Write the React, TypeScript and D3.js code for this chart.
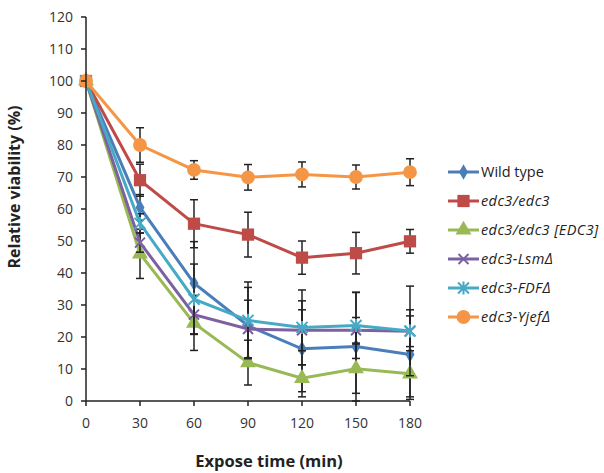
import React from "react";
import { scaleLinear, line, symbol, symbolDiamond, symbolSquare, symbolTriangle, symbolCircle } from "d3";

const width = 604;
const height = 473;
const margin = { top: 17, right: 194, bottom: 72, left: 86 };

const times = [0, 30, 60, 90, 120, 150, 180];
const yTicks = [0, 10, 20, 30, 40, 50, 60, 70, 80, 90, 100, 110, 120];

// values (mean, error)
const wildType = [100, 60.5, 36.8, 23.5, 16.3, 17, 14.5];
const wildTypeErr = [0, 4, 13, 12, 15, 17, 14];
const edc3 = [100, 69, 55.4, 52, 44.8, 46.2, 49.9];
const edc3Err = [0, 5, 7.5, 7, 5.2, 6.5, 3.7];
const edc3Rescue = [100, 46, 24.3, 12, 7.1, 10.1, 8.5];
const edc3RescueErr = [0, 7.7, 8.5, 7, 4.2, 7.7, 7.2];
const lsm = [100, 49.5, 27, 22.5, 22.1, 22.1, 21.8];
const lsmErr = [0, 3, 6, 9, 6.4, 4, 4.8];
const fdf = [100, 55.5, 31.8, 25.2, 23, 23.6, 21.9];
const fdfErr = [0, 3, 11, 12, 11.7, 10.3, 14];
const yjef = [100, 80, 72.2, 69.9, 70.8, 70, 71.5];
const yjefErr = [0, 5.4, 2.9, 4, 3.9, 3.75, 4.2];

const seriesNames = ["Wild type", "edc3/edc3", "edc3/edc3 [EDC3]", "edc3-Lsm\u0394", "edc3-FDF\u0394", "edc3-Yjef\u0394"];
const seriesColors = ["#4a7ebb", "#be4b48", "#98b954", "#7d60a0", "#46aac5", "#f59646"];
const seriesValues = [wildType, edc3, edc3Rescue, lsm, fdf, yjef];
const seriesErrors = [wildTypeErr, edc3Err, edc3RescueErr, lsmErr, fdfErr, yjefErr];
const markers = ["diamond", "square", "triangle", "x", "star", "circle"];

const font = "'Open Sans', 'DejaVu Sans', sans-serif";

const Marker = ({ kind, x, y, color }: { kind: string; x: number; y: number; color: string }) => {
  if (kind === "x") {
    const s = 5;
    return (
      <path
        transform={`translate(${x},${y})`}
        d={`M${-s},${-s}L${s},${s}M${-s},${s}L${s},${-s}`}
        stroke={color}
        strokeWidth={2}
      />
    );
  }
  if (kind === "star") {
    const s = 5.5;
    return (
      <path
        transform={`translate(${x},${y})`}
        d={`M${-s},${-s}L${s},${s}M${-s},${s}L${s},${-s}M0,${-s - 1}L0,${s + 1}`}
        stroke={color}
        strokeWidth={2}
      />
    );
  }
  const type =
    kind === "diamond" ? symbolDiamond : kind === "square" ? symbolSquare : kind === "triangle" ? symbolTriangle : symbolCircle;
  const size = kind === "diamond" ? 70 : kind === "square" ? 150 : kind === "triangle" ? 110 : 150;
  return <path transform={`translate(${x},${y})`} d={symbol(type, size)() || ""} fill={color} />;
};

const Chart = () => {
  const innerWidth = width - margin.left - margin.right;
  const innerHeight = height - margin.top - margin.bottom;
  const xScale = scaleLinear().domain([0, 180]).range([0, innerWidth]);
  const yScale = scaleLinear().domain([0, 120]).range([innerHeight, 0]);

  const lineGen = line<number>()
    .x((_, i) => xScale(times[i]))
    .y((d) => yScale(d));

  return (
    <svg
      width={width}
      height={height}
      style={{ position: "absolute", left: 0, top: 0, background: "#fff" }}
      fontFamily={font}
    >
      <g transform={`translate(${margin.left},${margin.top})`}>
        {/* series */}
        {seriesValues.map((vals, si) => (
          <g key={si}>
            {vals.map((v, i) =>
              seriesErrors[si][i] > 0 ? (
                <g key={i} stroke="#222" strokeWidth={1.5}>
                  <line
                    x1={xScale(times[i])}
                    x2={xScale(times[i])}
                    y1={yScale(v + seriesErrors[si][i])}
                    y2={yScale(Math.max(0, v - seriesErrors[si][i]))}
                  />
                  <line
                    x1={xScale(times[i]) - 4}
                    x2={xScale(times[i]) + 4}
                    y1={yScale(v + seriesErrors[si][i])}
                    y2={yScale(v + seriesErrors[si][i])}
                  />
                  <line
                    x1={xScale(times[i]) - 4}
                    x2={xScale(times[i]) + 4}
                    y1={yScale(Math.max(0, v - seriesErrors[si][i]))}
                    y2={yScale(Math.max(0, v - seriesErrors[si][i]))}
                  />
                </g>
              ) : null
            )}
            <path d={lineGen(vals) || ""} fill="none" stroke={seriesColors[si]} strokeWidth={3} />
            {vals.map((v, i) => (
              <Marker key={i} kind={markers[si]} x={xScale(times[i])} y={yScale(v)} color={seriesColors[si]} />
            ))}
          </g>
        ))}

        {/* y axis */}
        <line x1={0} x2={0} y1={0} y2={innerHeight} stroke="#222" strokeWidth={1.5} />
        {yTicks.map((t) => (
          <g key={t} transform={`translate(0,${yScale(t)})`}>
            <line x1={-5} x2={0} stroke="#222" strokeWidth={1.5} />
            <text x={-13} dy="0.35em" textAnchor="end" fontSize={14} fill="#333">
              {t}
            </text>
          </g>
        ))}

        {/* x axis */}
        <line x1={0} x2={innerWidth} y1={innerHeight} y2={innerHeight} stroke="#222" strokeWidth={1.5} />
        {times.map((t) => (
          <g key={t} transform={`translate(${xScale(t)},${innerHeight})`}>
            <line y1={0} y2={5} stroke="#222" strokeWidth={1.5} />
            <text y={27} textAnchor="middle" fontSize={14} fill="#333">
              {t}
            </text>
          </g>
        ))}

        <text x={183} y={450} textAnchor="middle" fontSize={16.5} fontWeight="bold" fill="#222">
          Expose time (min)
        </text>
        <text
          transform={`translate(-66,${yScale(60) - 22}) rotate(-90)`}
          textAnchor="middle"
          fontSize={16}
          fontWeight="bold"
          fill="#222"
        >
          Relative viability (%)
        </text>
      </g>

      {/* legend */}
      {seriesNames.map((name, i) => {
        const y = 172 + i * 29;
        return (
          <g key={name}>
            <line x1={448} x2={479} y1={y} y2={y} stroke={seriesColors[i]} strokeWidth={3} />
            <Marker kind={markers[i]} x={463.5} y={y} color={seriesColors[i]} />
            <text
              x={481}
              y={y}
              dy="0.35em"
              fontSize={14.5}
              fontStyle={i === 0 ? "normal" : "italic"}
              letterSpacing={i === 0 ? 0 : 0.4}
              fill="#222"
            >
              {name}
            </text>
          </g>
        );
      })}
    </svg>
  );
};

export default function App() {
  return <Chart />;
}
